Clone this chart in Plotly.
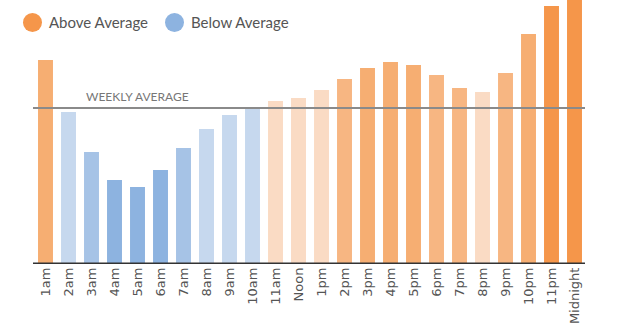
import plotly.graph_objects as go

hours = ["1am", "2am", "3am", "4am", "5am", "6am", "7am", "8am", "9am", "10am",
         "11am", "Noon", "1pm", "2pm", "3pm", "4pm", "5pm", "6pm", "7pm", "8pm",
         "9pm", "10pm", "11pm", "Midnight"]
activity = [204, 152, 112, 84, 77, 94, 116, 135, 149, 156,
            163, 166, 174, 185, 196, 202, 199, 189, 176, 172,
            191, 230, 258, 266]
intensity = [3, 1, 2, 3, 3, 3, 2, 1, 1, 1,
             1, 1, 1, 2, 3, 3, 3, 2, 2, 1,
             2, 3, 4, 4]
weekly_average = 156
legend_labels = ["Above Average", "Below Average"]
average_label = "WEEKLY AVERAGE"

ORANGE = {1: "#FADBC4", 2: "#F7B682", 3: "#F6AE72", 4: "#F5964A"}
BLUE = {1: "#C6D8EE", 2: "#A6C3E6", 3: "#8DB3E0", 4: "#7AA5DB"}

colors = [(ORANGE if v > weekly_average else BLUE)[k] for v, k in zip(activity, intensity)]

W, H = 620, 336
L, R, T, B = 34, 34, 0, 72
PW, PH = W - L - R, H - T - B


def px_x(x):
    return (x - L) / PW


def px_y(y):
    return (H - B - y) / PH


fig = go.Figure()
fig.add_trace(go.Bar(x=hours, y=activity, marker=dict(color=colors, line=dict(width=0)),
                     showlegend=False, hoverinfo="x+y"))

# weekly average line
fig.add_shape(type="line", xref="paper", yref="y", x0=px_x(33), x1=px_x(585),
              y0=weekly_average, y1=weekly_average, line=dict(color="#8a8a8a", width=2), layer="above")
fig.add_annotation(x=1.68, y=weekly_average, xref="x", yref="y", text=average_label,
                   showarrow=False, xanchor="left", yanchor="bottom", yshift=2,
                   font=dict(family="Lato", size=12, color="#777777"))

# baseline
fig.add_shape(type="line", xref="paper", yref="y", x0=px_x(33), x1=px_x(585),
              y0=0, y1=0, line=dict(color="#333333", width=3), layer="above")

# legend
for cx, tx, col, lab in [(32.5, 47, "#F5964A", legend_labels[0]), (174.5, 189, "#8DB3E0", legend_labels[1])]:
    r = 9.5
    fig.add_shape(type="circle", xref="paper", yref="paper",
                  x0=px_x(cx - r), x1=px_x(cx + r), y0=px_y(22.5 + r), y1=px_y(22.5 - r),
                  fillcolor=col, line=dict(width=0))
    fig.add_annotation(x=px_x(tx), y=px_y(22.5), xref="paper", yref="paper", text=lab,
                       showarrow=False, xanchor="left", yanchor="middle",
                       font=dict(family="Lato", size=15, color="#555555"))

fig.update_layout(
    width=W, height=H,
    margin=dict(l=L, r=R, t=T, b=B, pad=0),
    paper_bgcolor="white", plot_bgcolor="white",
    bargap=0.35,
    xaxis=dict(type="category", range=[-0.5, 23.5], tickangle=-90, showgrid=False,
               zeroline=False, showline=False, ticks="",
               tickfont=dict(family="DejaVu Sans", size=13, color="#555555")),
    yaxis=dict(range=[0, PH], showgrid=False, zeroline=False, showline=False,
               showticklabels=False, ticks=""),
)

fig.write_html("out.html")
